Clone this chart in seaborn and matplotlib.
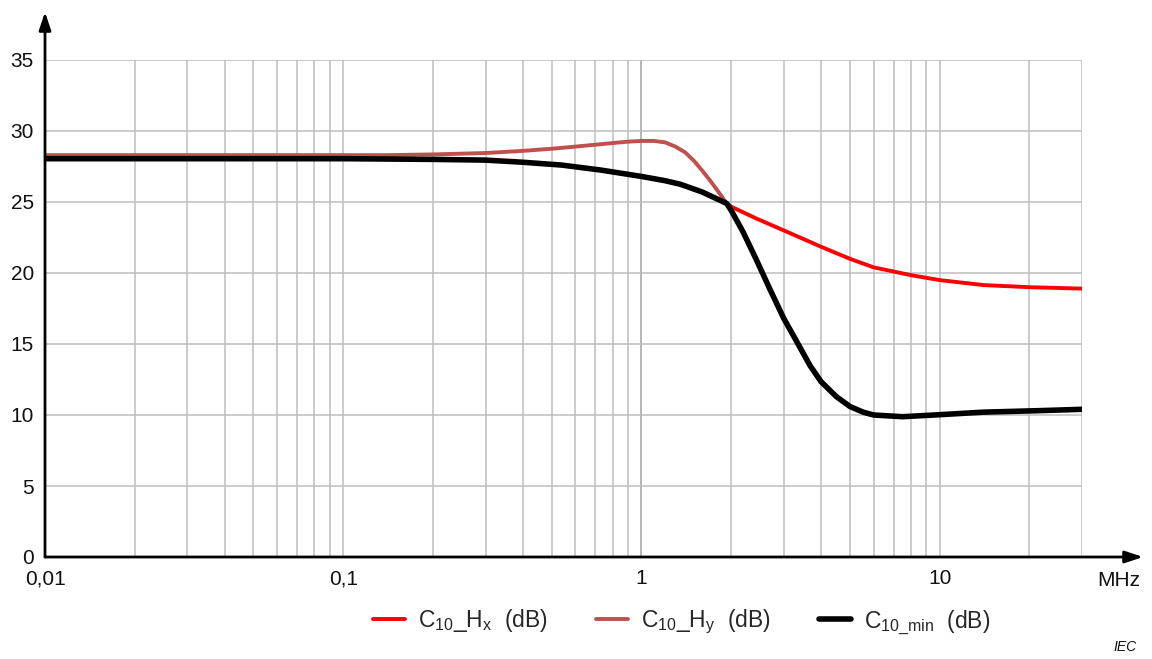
import numpy as np
import pandas as pd
import matplotlib
matplotlib.use("Agg")
import matplotlib.pyplot as plt
import seaborn as sns
from matplotlib.ticker import FixedLocator, FuncFormatter, NullFormatter

# ---- data ----
freq_hx = [0.01, 0.1, 0.2, 0.3, 0.4, 0.54, 0.73, 1.0, 1.2, 1.35, 1.6, 1.93, 2.0, 2.42, 3.0,
           4.0, 5.0, 6.0, 8.0, 10.0, 14.0, 20.0, 30.0]
c10_hx = [28.05, 28.05, 28.0, 27.95, 27.8, 27.6, 27.25, 26.8, 26.5, 26.25, 25.7, 24.9, 24.67,
          23.85, 23.0, 21.85, 21.0, 20.4, 19.85, 19.5, 19.15, 19.0, 18.9]

freq_hy = [0.01, 0.1, 0.14, 0.2, 0.3, 0.4, 0.5, 0.6, 0.8, 0.9, 1.0, 1.1, 1.2, 1.3, 1.4, 1.5,
           1.6, 1.7, 1.8, 1.93, 2.0, 2.19, 2.42, 2.69, 3.0, 3.31, 3.67, 4.0, 4.5, 5.0, 5.54,
           6.0, 7.5, 9.6, 14.0, 21.0, 30.0]
c10_hy = [28.3, 28.3, 28.3, 28.35, 28.45, 28.6, 28.75, 28.9, 29.15, 29.25, 29.3, 29.3, 29.2,
          28.9, 28.5, 27.9, 27.2, 26.5, 25.8, 24.9, 24.4, 22.9, 21.0, 18.9, 16.8, 15.2, 13.5,
          12.35, 11.3, 10.6, 10.2, 10.0, 9.88, 10.0, 10.2, 10.3, 10.4]

freq_min = [0.01, 0.1, 0.2, 0.3, 0.4, 0.54, 0.73, 1.0, 1.2, 1.35, 1.6, 1.93, 2.0, 2.19, 2.42,
            2.69, 3.0, 3.31, 3.67, 4.0, 4.5, 5.0, 5.54, 6.0, 7.5, 9.6, 14.0, 21.0, 30.0]
c10_min = [28.05, 28.05, 28.0, 27.95, 27.8, 27.6, 27.25, 26.8, 26.5, 26.25, 25.7, 24.9, 24.4,
           22.9, 21.0, 18.9, 16.8, 15.2, 13.5, 12.35, 11.3, 10.6, 10.2, 10.0, 9.88, 10.0, 10.2,
           10.3, 10.4]

y_ticks = [0, 5, 10, 15, 20, 25, 30, 35]
x_major = [0.01, 0.1, 1, 10]
x_major_labels = ["0,01", "0,1", "1", "10"]

labels = [r"C$_{\mathregular{10}}$_H$_{\mathregular{x}}$  (dB)",
          r"C$_{\mathregular{10}}$_H$_{\mathregular{y}}$  (dB)",
          r"C$_{\mathregular{10\_min}}$  (dB)"]

# ---- plot ----
sns.set_theme(style="white")
plt.rcParams['font.family'] = ['Liberation Sans', 'DejaVu Sans']
plt.rcParams['mathtext.fontset'] = 'custom'
plt.rcParams['mathtext.rm'] = 'Liberation Sans'
plt.rcParams['mathtext.it'] = 'Liberation Sans'

fig = plt.figure(figsize=(11.52, 6.59), dpi=100)
ax = fig.add_axes([45 / 1152, 102 / 659, 1037 / 1152, 497 / 659])

df_hx = pd.DataFrame({"f": freq_hx, "v": c10_hx})
df_hy = pd.DataFrame({"f": freq_hy, "v": c10_hy})
df_min = pd.DataFrame({"f": freq_min, "v": c10_min})

sns.lineplot(data=df_hx, x="f", y="v", ax=ax, color="#ff0000", linewidth=2.8, label=labels[0],
             estimator=None, sort=False)
sns.lineplot(data=df_hy, x="f", y="v", ax=ax, color="#c0504d", linewidth=2.8, label=labels[1],
             estimator=None, sort=False)
sns.lineplot(data=df_min, x="f", y="v", ax=ax, color="#000000", linewidth=4, label=labels[2],
             estimator=None, sort=False)

ax.set_xscale("log")
ax.set_xlim(0.01, 30)
ax.set_ylim(0, 35)
ax.set_xlabel("")
ax.set_ylabel("")

minor = [m * 10.0 ** e for e in range(-2, 2) for m in range(2, 10)]
minor = [v for v in minor if v <= 30.0001]
ax.xaxis.set_major_locator(FixedLocator(x_major))
ax.xaxis.set_minor_locator(FixedLocator(minor))
ax.xaxis.set_major_formatter(FuncFormatter(lambda v, p: dict(zip(x_major, x_major_labels)).get(v, "")))
ax.xaxis.set_minor_formatter(NullFormatter())
ax.set_yticks(y_ticks)

ax.grid(which="both", axis="x", color="#bdbdbd", linewidth=1.1)
ax.grid(which="major", axis="y", color="#bdbdbd", linewidth=1.1)
ax.axvline(1, color="#8c8c8c", linewidth=1.1, zorder=0.5)
ax.set_axisbelow(True)

ax.tick_params(axis="both", which="both", length=0, labelsize=15, colors="#111111")
ax.tick_params(axis="x", pad=9)
ax.tick_params(axis="y", pad=8)

for s in ax.spines.values():
    s.set_visible(False)

# axis arrows
ax.annotate("", xy=(1 + 61 / 1037, 0), xycoords="axes fraction", xytext=(0, 0),
            arrowprops=dict(arrowstyle="-|>,head_length=0.9,head_width=0.3", color="black",
                            lw=2, shrinkA=0, shrinkB=0), annotation_clip=False)
ax.annotate("", xy=(0, 1 + 48 / 497), xycoords="axes fraction", xytext=(0, 0),
            arrowprops=dict(arrowstyle="-|>,head_length=0.9,head_width=0.3", color="black",
                            lw=2, shrinkA=0, shrinkB=0), annotation_clip=False)

fig.text(1119 / 1152, 1 - 580 / 659, "MHz", fontsize=15, ha="center", va="center", color="#111111")
fig.text(1125 / 1152, 1 - 647 / 659, "IEC", fontsize=10, ha="center", va="center",
         style="italic", color="#111111")

leg = ax.legend(loc="center", bbox_to_anchor=(682 / 1152, 1 - 622 / 659),
                bbox_transform=fig.transFigure, ncol=3, frameon=False, fontsize=16.5,
                handlelength=1.4, columnspacing=2.1, handletextpad=0.57)

fig.savefig("out.png", dpi=100)
